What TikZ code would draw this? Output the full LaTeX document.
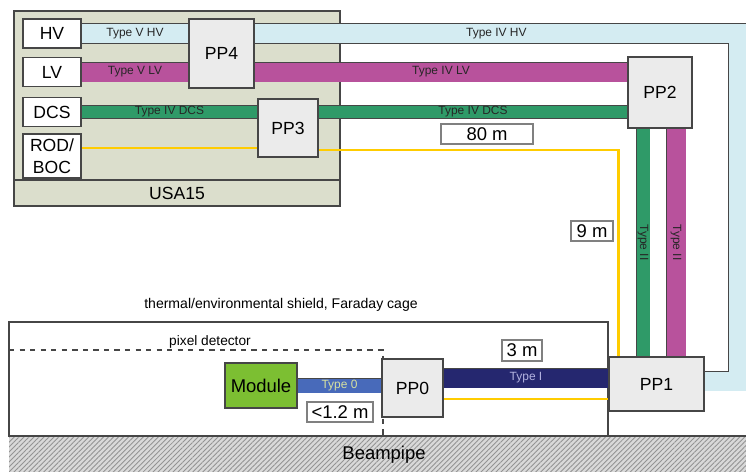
\documentclass[tikz,border=0pt]{standalone}
\usepackage{fontspec}
\setmainfont{Liberation Sans}
\usetikzlibrary{patterns.meta}

\definecolor{usabg}{RGB}{219,222,204}
\definecolor{ppgray}{RGB}{235,235,235}
\definecolor{edge}{RGB}{70,70,70}
\definecolor{hvblue}{RGB}{212,236,242}
\definecolor{lvmag}{RGB}{184,82,156}
\definecolor{dcsgreen}{RGB}{47,154,104}
\definecolor{typeIblue}{RGB}{37,39,111}
\definecolor{typeOblue}{RGB}{72,106,186}
\definecolor{modgreen}{RGB}{124,191,50}
\definecolor{optyellow}{RGB}{255,204,0}
\definecolor{typeOtext}{RGB}{215,225,160}
\definecolor{typeItext}{RGB}{180,180,225}

\pgfdeclarelayer{back}
\pgfdeclarelayer{cables}
\pgfsetlayers{back,cables,main}

\tikzset{
    box/.style={draw=edge, fill=white, line width=0.8pt, inner sep=0pt, align=center,
        font=\fontsize{10}{12.5}\selectfont},
    ppbox/.style={box, fill=ppgray},
    lenbox/.style={draw=gray, fill=white, line width=0.6pt, inner sep=0pt,
        font=\fontsize{10.5}{12}\selectfont},
    cable/.style 2 args={draw=edge, line width=0.4pt, double=#1, double distance=#2},
    cablelabel/.style={font=\fontsize{6.8}{7}\selectfont, inner sep=0pt, text=#1},
    cablelabel/.default=black!85,
    optical/.style={optyellow, line width=1.4pt},
}

\begin{document}
\begin{tikzpicture}[x=0.02cm, y=-0.02cm]
    \useasboundingbox (0,0) rectangle (746,471);

    % USA15
    \begin{pgfonlayer}{back}
        \draw[edge, fill=usabg, line width=0.6pt] (14,11) rectangle (340,206);
        \draw[edge, line width=0.6pt] (14,180) -- (340,180);
    \end{pgfonlayer}
    \node[font=\fontsize{10}{12}\selectfont] (usa) at (177,193) {USA15};
    \node[box, minimum width=1.16cm, minimum height=0.58cm] (hv) at (52,33.5) {HV};
    \node[box, minimum width=1.16cm, minimum height=0.58cm] (lv) at (52,72) {LV};
    \node[box, minimum width=1.16cm, minimum height=0.58cm] (dcs) at (52,112) {DCS};
    \node[box, minimum width=1.16cm, minimum height=0.88cm] (rod) at (52,156) {ROD/\\BOC};

    % patch panels
    \node[ppbox, minimum width=1.30cm, minimum height=1.38cm] (pp4) at (221.5,53.5) {PP4};
    \node[ppbox, minimum width=1.20cm, minimum height=1.16cm] (pp3) at (288,128) {PP3};
    \node[ppbox, minimum width=1.28cm, minimum height=1.42cm] (pp2) at (660,92.5) {PP2};
    \node[ppbox, minimum width=1.90cm, minimum height=1.08cm] (pp1) at (656.5,384) {PP1};
    \node[ppbox, minimum width=1.22cm, minimum height=1.16cm] (pp0) at (412.5,388) {PP0};
    \node[box, fill=modgreen, minimum width=1.44cm, minimum height=0.9cm,
        font=\fontsize{10.5}{12}\selectfont] (module) at (261,385.5) {Module};

    % lengths
    \node[lenbox, minimum width=1.84cm, minimum height=0.40cm] (l80) at (487,134) {80 m};
    \node[lenbox, minimum width=0.84cm, minimum height=0.40cm] (l9) at (592,231) {9 m};
    \node[lenbox, minimum width=0.80cm, minimum height=0.42cm] (l3) at (522,350.5) {3 m};
    \node[lenbox, minimum width=1.32cm, minimum height=0.40cm] (l12) at (340,412) {<1.2 m};

    % shield, pixel detector, beampipe
    \begin{pgfonlayer}{back}
        \draw[edge, line width=0.7pt] (9,322) rectangle (608,436);
        \draw[edge, dashed, line width=0.6pt] (9,350) -- (383,350) -- (383,436);
        \fill[gray!30] (9,436) rectangle (760,480);
        \fill[pattern={Lines[angle=45, distance=2pt, line width=0.5pt]}, pattern color=gray!85]
            (9,436) rectangle (760,480);
        \draw[edge, line width=0.8pt] (9,436) -- (760,436);
    \end{pgfonlayer}
    \node[font=\fontsize{8}{9}\selectfont] (shield) at (281,305)
        {thermal/environmental shield, Faraday cage};
    \node[font=\fontsize{7.8}{9}\selectfont] (pixdet) at (210,342) {pixel detector};
    \node[font=\fontsize{10.5}{12}\selectfont] (beam) at (384,455) {Beampipe};

    % cables
    \begin{pgfonlayer}{cables}
        \coordinate (hvtop) at (738,33.5);
        \coordinate (hvbot) at (738,381);
        \draw[cable={hvblue}{0.38cm}] (hv.east) -- node[cablelabel] {Type V HV} (hv.east -| pp4.west);
        \draw[cable={hvblue}{0.38cm}] (hv.east -| pp4.east) -- node[cablelabel] {Type IV HV} (hvtop)
            -- (hvbot) -- (hvbot -| pp1.east);

        \draw[cable={lvmag}{0.38cm}] (lv.east) -- node[cablelabel] {Type V LV} (lv.east -| pp4.west);
        \draw[cable={lvmag}{0.38cm}] (lv.east -| pp4.east) -- node[cablelabel] {Type IV LV} (lv.east -| pp2.west);

        \draw[cable={dcsgreen}{0.24cm}] (dcs.east) -- node[cablelabel] {Type IV DCS} (dcs.east -| pp3.west);
        \draw[cable={dcsgreen}{0.24cm}] (dcs.east -| pp3.east) -- node[cablelabel] {Type IV DCS} (dcs.east -| pp2.west);

        \coordinate (g2) at ([xshift=-0.34cm]pp2.south);
        \coordinate (m2) at ([xshift=0.32cm]pp2.south);
        \draw[cable={dcsgreen}{0.26cm}] (g2) -- node[cablelabel, rotate=-90] {Type II} (g2 |- pp1.north);
        \draw[cable={lvmag}{0.38cm}] (m2) -- node[cablelabel, rotate=-90] {Type II} (m2 |- pp1.north);

        \draw[cable={typeOblue}{0.28cm}] (module.east) -- node[cablelabel=typeOtext] {Type 0}
            (module.east -| pp0.west);
        \coordinate (t1) at ([yshift=0.2cm]pp0.east);
        \draw[cable={typeIblue}{0.38cm}] (t1) -- node[cablelabel=typeItext] {Type I}
            (t1 -| pp1.west);

        % optical link
        \coordinate (yrod) at ([yshift=0.16cm]rod.east);
        \coordinate (ypp3) at ([yshift=-0.44cm]pp3.east);
        \coordinate (ypp0) at ([yshift=-0.22cm]pp0.east);
        \draw[optical] (yrod) -- (yrod -| pp3.west);
        \draw[optical] (ypp3) -| ([xshift=0.2cm]pp1.north west);
        \draw[optical] (ypp0) -- (ypp0 -| pp1.west);
    \end{pgfonlayer}
\end{tikzpicture}
\end{document}
